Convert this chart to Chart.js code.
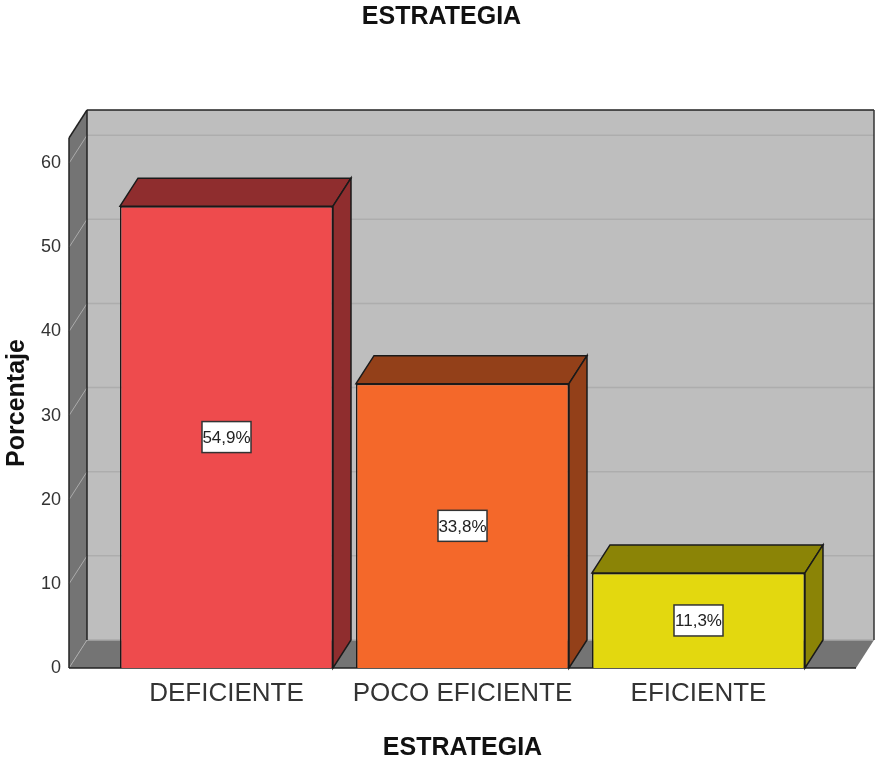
<!DOCTYPE html>
<html>
<head>
<meta charset="utf-8">
<style>html,body{margin:0;padding:0;background:#fff}canvas{display:block}</style>
<script src="https://cdn.jsdelivr.net/npm/chart.js@4"></script>
</head>
<body>
<canvas id="c" width="878" height="763"></canvas>
<script>
const categories = ['DEFICIENTE', 'POCO EFICIENTE', 'EFICIENTE'];
const values = [54.9, 33.8, 11.3];
const frontColors = ['#EE4B4D', '#F4682A', '#E3D80F'];
const sideColors = ['#8F2D2E', '#934019', '#8B8406'];
const yTicks = [0, 10, 20, 30, 40, 50, 60];
const chartTitle = 'ESTRATEGIA';
const xTitle = 'ESTRATEGIA';
const yTitle = 'Porcentaje';

const NARROW = '"Liberation Sans Narrow","Liberation Sans",sans-serif';
const DX = 18, DY = 28, OVER = 39.5;

function poly(ctx, pts, fill, stroke, lw) {
  ctx.beginPath();
  pts.forEach((p, i) => i ? ctx.lineTo(p[0], p[1]) : ctx.moveTo(p[0], p[1]));
  ctx.closePath();
  if (fill) { ctx.fillStyle = fill; ctx.fill(); }
  if (stroke) { ctx.strokeStyle = stroke; ctx.lineWidth = lw || 1.5; ctx.stroke(); }
}
function line(ctx, x1, y1, x2, y2, color, lw) {
  ctx.beginPath(); ctx.moveTo(x1, y1); ctx.lineTo(x2, y2);
  ctx.strokeStyle = color; ctx.lineWidth = lw; ctx.stroke();
}

const box3d = {
  id: 'box3d',
  beforeDatasetsDraw(chart) {
    const ctx = chart.ctx, a = chart.chartArea, ys = chart.scales.y;
    const L = a.left - OVER, R = a.right + OVER, T = a.top, B = a.bottom;
    ctx.save();
    poly(ctx, [[L + DX, T - DY], [R + DX, T - DY], [R + DX, B - DY], [L + DX, B - DY]], '#BEBEBE');
    poly(ctx, [[L, T], [L + DX, T - DY], [L + DX, B - DY], [L, B]], '#747474');
    poly(ctx, [[L, B], [L + DX, B - DY], [R + DX, B - DY], [R, B]], '#747474');
    yTicks.forEach(v => {
      const y = ys.getPixelForValue(v);
      line(ctx, L, y, L + DX, y - DY, '#ABABAB', 1);
      if (v > 0) line(ctx, L + DX, y - DY, R + DX, y - DY, '#ADADAD', 1.5);
    });
    line(ctx, L + DX, B - DY, R + DX, B - DY, '#A8A8A8', 1.5);
    line(ctx, L, T, L, B, '#222', 1.5);
    line(ctx, L, T, L + DX, T - DY, '#222', 1.5);
    line(ctx, L + DX, T - DY, R + DX, T - DY, '#222', 1.5);
    line(ctx, L + DX, T - DY, L + DX, B - DY, '#222', 1.5);
    line(ctx, R + DX, T - DY, R + DX, B - DY, '#333', 1.5);
    line(ctx, L, B, R, B, '#222', 1.5);
    chart.getDatasetMeta(0).data.forEach((bar, i) => {
      const x0 = bar.x - bar.width / 2, x1 = bar.x + bar.width / 2;
      poly(ctx, [[x0, bar.y], [x0 + DX, bar.y - DY], [x1 + DX, bar.y - DY], [x1, bar.y]], sideColors[i], '#1a1a1a', 1.5);
      poly(ctx, [[x1, bar.y], [x1 + DX, bar.y - DY], [x1 + DX, bar.base - DY], [x1, bar.base]], sideColors[i], '#1a1a1a', 1.5);
    });
    ctx.restore();
  },
  afterDatasetsDraw(chart) {
    const ctx = chart.ctx;
    ctx.save();
    ctx.font = '17px ' + NARROW;
    ctx.textAlign = 'center';
    ctx.textBaseline = 'middle';
    chart.getDatasetMeta(0).data.forEach((bar, i) => {
      const cy = (bar.y + bar.base) / 2;
      ctx.fillStyle = '#fff';
      ctx.fillRect(bar.x - 24.5, cy - 15.5, 49, 31);
      ctx.strokeStyle = '#333';
      ctx.lineWidth = 1.5;
      ctx.strokeRect(bar.x - 24.5, cy - 15.5, 49, 31);
      ctx.fillStyle = '#222';
      ctx.fillText(values[i].toFixed(1).replace('.', ',') + '%', bar.x, cy + 1);
    });
    ctx.restore();
  }
};

new Chart(document.getElementById('c'), {
  type: 'bar',
  data: {
    labels: categories,
    datasets: [{
      data: values,
      backgroundColor: frontColors,
      borderColor: '#1a1a1a',
      borderWidth: 1.5,
      categoryPercentage: 1,
      barPercentage: 0.9025
    }]
  },
  plugins: [box3d],
  options: {
    responsive: false,
    animation: false,
    layout: { padding: { left: 5, right: 0, top: 0, bottom: 0 } },
    plugins: {
      legend: { display: false },
      tooltip: { enabled: false },
      title: {
        display: true,
        text: chartTitle,
        color: '#111',
        font: { family: NARROW, size: 25, weight: 'bold', lineHeight: 1.2 },
        padding: { top: 2, bottom: 106 }
      }
    },
    scales: {
      x: {
        grid: { display: false, drawTicks: false },
        border: { display: false },
        ticks: { color: '#333', font: { family: NARROW, size: 26 }, padding: 10, maxRotation: 0, autoSkip: false },
        title: { display: true, text: xTitle, color: '#111', font: { family: NARROW, size: 25, weight: 'bold', lineHeight: 1.2 }, padding: { top: 0, bottom: 0 } },
        afterFit(s) { s.height = 95; }
      },
      y: {
        min: 0, max: 63,
        grid: { display: false, drawTicks: false },
        border: { display: false },
        ticks: { stepSize: 10, includeBounds: false, color: '#333', font: { family: NARROW, size: 18 }, padding: 47.5 },
        title: { display: true, text: yTitle, color: '#111', font: { family: '"Liberation Sans",sans-serif', size: 25, weight: 'bold', lineHeight: 1 }, padding: { top: 0, bottom: 0 } },
        afterFit(s) { s.width = 103.5; }
      },
      margin: {
        position: 'right', min: 0, max: 1,
        grid: { display: false, drawTicks: false },
        border: { display: false },
        ticks: { display: false },
        afterFit(s) { s.width = 61.5; }
      }
    }
  }
});
</script>
</body>
</html>
